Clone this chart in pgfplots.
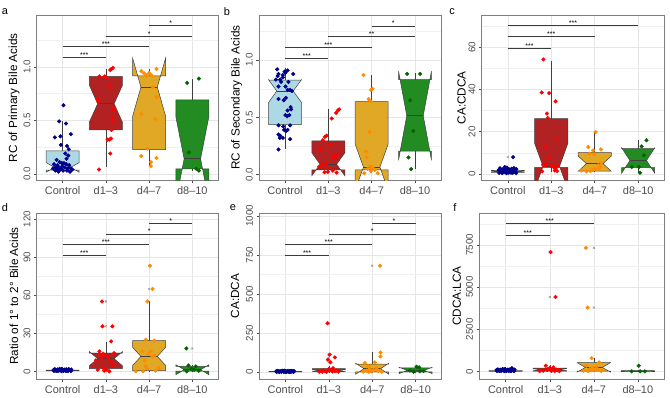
\documentclass[border=0pt]{standalone}
\usepackage{pgfplots}
\pgfplotsset{compat=1.18}
\usepackage{fontspec}
\setmainfont{Liberation Sans}
\definecolor{cCfill}{HTML}{ADD8E6}
\definecolor{cAfill}{HTML}{B22222}
\definecolor{cBfill}{HTML}{E0A824}
\definecolor{cDfill}{HTML}{228B22}
\definecolor{cCpt}{HTML}{00008B}
\definecolor{cApt}{HTML}{FF0000}
\definecolor{cBpt}{HTML}{FF8C00}
\definecolor{cDpt}{HTML}{006400}
\definecolor{boxline}{HTML}{404040}
\definecolor{gridc}{HTML}{E6E6E6}
\definecolor{bordc}{HTML}{7F7F7F}
\definecolor{tickc}{HTML}{4D4D4D}
\definecolor{sigc}{HTML}{3A3A3A}
\definecolor{outc}{HTML}{8A8A8A}

\newcommand{\nbox}[8]{%
 \pgfmathsetmacro\xa{#1-0.38}\pgfmathsetmacro\xb{#1+0.38}%
 \pgfmathsetmacro\xc{#1-0.19}\pgfmathsetmacro\xd{#1+0.19}%
 \pgfmathsetmacro\nl{#4-#7}\pgfmathsetmacro\nu{#4+#7}%
 \addplot[boxline, line width=0.5bp] coordinates {(#1,#3) (#1,#2)};
 \addplot[boxline, line width=0.5bp] coordinates {(#1,#5) (#1,#6)};
 \addplot[fill=#8, draw=boxline, line width=0.5bp] coordinates {(\xa,#3) (\xa,\nl) (\xc,#4) (\xa,\nu) (\xa,#5) (\xb,#5) (\xb,\nu) (\xd,#4) (\xb,\nl) (\xb,#3)} -- cycle;
 \addplot[boxline, line width=1.1bp] coordinates {(\xc,#4) (\xd,#4)};
}
\newcommand{\sig}[4]{%
 \addplot[sigc, line width=0.6bp] coordinates {(#1,#3) (#2,#3)} node[pos=0.5, anchor=base, inner sep=0pt, font=\fontsize{7}{8}\selectfont, text=black] {#4};
}

\pgfplotsset{
 panel/.style={
  scale only axis, anchor=south west,
  xmin=0.4, xmax=4.6,
  xtick={1,2,3,4}, xticklabels={Control,d1--3,d4--7,d8--10},
  xmajorgrids, ymajorgrids, yminorgrids,
  major grid style={draw=gridc, line width=0.5bp},
  minor grid style={draw=gridc!60!white, line width=0.3bp},
  axis line style={draw=bordc, line width=0.6bp},
  tick align=outside, tick pos=left,
  major tick length=2.75bp, minor tick length=0pt,
  tick style={draw=tickc, line width=0.5bp},
  xticklabel style={font=\fontsize{11}{12}\selectfont, text=tickc},
  yticklabel style={font=\fontsize{9.8}{11}\selectfont, text=tickc, rotate=90, anchor=south},
  label style={font=\fontsize{11.8}{13}\selectfont},
  pt/.style={only marks, mark=*, mark size=1.85bp},
  ox/.style={only marks, mark=x, mark size=1.4bp, outc, line width=0.4bp},
 }
}

\begin{document}
\begin{tikzpicture}
\useasboundingbox (0,0) rectangle (670bp,398bp);

% ---------------- panel a
\begin{axis}[panel, at={(36.7bp,217.5bp)}, width=181.6bp, height=165.5bp,
 ymin=-0.0625, ymax=1.484, ytick={0,0.5,1}, yticklabels={0.0,0.5,1.0}, minor ytick={0.25,0.75,1.25},
 ylabel={RC of Primary Bile Acids}, ylabel style={at={(axis description cs:-0.125,0.5)}, anchor=center}]
\nbox{1}{0.02}{0.035}{0.06}{0.215}{0.49}{0.045}{cCfill}
\nbox{2}{0.065}{0.41}{0.655}{0.91}{0.98}{0.17}{cAfill}
\nbox{3}{0.075}{0.225}{0.81}{0.915}{0.98}{0.27}{cBfill}
\nbox{4}{0.03}{0.045}{0.14}{0.69}{0.89}{0.39}{cDfill}
\addplot[pt, cCpt] coordinates {(1.02,0.64)(0.92,0.49)(1.08,0.47)(1.19,0.37)(0.82,0.34)(0.95,0.35)(0.96,0.27)(1.1,0.26)(1.14,0.23)(1.06,0.19)(1.13,0.17)(1.09,0.14)(0.86,0.13)(0.93,0.11)(0.98,0.10)(1.03,0.10)(0.80,0.09)(0.88,0.08)(1.08,0.09)(1.15,0.08)(0.84,0.06)(0.91,0.06)(0.99,0.07)(1.05,0.06)(1.12,0.05)(1.19,0.05)(0.78,0.05)(0.87,0.04)(0.95,0.04)(1.01,0.03)(1.10,0.03)(1.17,0.02)(0.83,0.03)(0.97,0.05)(1.22,0.04)(0.90,0.02)};
\addplot[pt, cApt] coordinates {(1.84,0.04)(2.10,0.19)(2.04,0.32)(2.08,0.32)(2.12,0.33)(2.13,0.41)(2.15,0.49)(2.15,0.53)(2.17,0.60)(2.19,0.61)(1.80,0.70)(1.83,0.67)(2.10,0.82)(1.85,0.91)(1.97,0.91)(2.01,0.90)(2.10,0.97)(2.13,0.98)(2.16,0.99)};
\addplot[pt, cBpt] coordinates {(2.82,0.166)(3.04,0.072)(3.04,0.11)(3.17,0.147)(2.96,0.235)(2.82,0.56)(3.15,0.51)(3.17,0.72)(3.09,0.81)(2.82,0.96)(2.88,0.94)(2.94,0.92)(3.0,0.94)(3.17,0.98)(3.05,0.92)};
\addplot[pt, cDpt] coordinates {(3.88,0.85)(4.15,0.89)(3.92,0.2)(4.09,0.047)(4.15,0.03)};
\sig{1}{2}{1.0875}{***}
\sig{1}{3}{1.1875}{***}
\sig{2}{4}{1.2875}{*}
\sig{3}{4}{1.39}{*}
\end{axis}

% ---------------- panel b
\begin{axis}[panel, at={(259bp,217.5bp)}, width=182bp, height=165.5bp,
 ymin=-0.052, ymax=1.395, ytick={0,0.5,1}, yticklabels={0.0,0.5,1.0}, minor ytick={0.25,0.75,1.25},
 ylabel={RC of Secondary Bile Acids}, ylabel style={at={(axis description cs:-0.1225,0.5)}, anchor=center}]
\nbox{1}{0.22}{0.436}{0.73}{0.826}{0.93}{0.1}{cCfill}
\nbox{2}{0.015}{0.04}{0.09}{0.295}{0.57}{0.1}{cAfill}
\nbox{3}{0.01}{0.04}{0.065}{0.637}{0.87}{0.2}{cBfill}
\nbox{4}{0.047}{0.205}{0.515}{0.83}{0.89}{0.39}{cDfill}
\addplot[pt, cCpt] coordinates {(0.85,0.22)(0.88,0.32)(0.89,0.34)(0.85,0.35)(0.95,0.32)(1.12,0.31)(1.02,0.38)(0.98,0.39)(1.06,0.39)(0.85,0.43)(0.96,0.42)(1.12,0.43)(1.05,0.51)(1.01,0.52)(1.10,0.52)(1.14,0.57)(1.13,0.59)(1.06,0.56)(0.85,0.66)(0.97,0.65)(1.02,0.67)(1.16,0.73)(1.12,0.74)(0.85,0.77)(1.01,0.77)(1.06,0.74)(0.91,0.81)(1.08,0.81)(0.79,0.83)(0.89,0.83)(0.83,0.86)(0.95,0.87)(1.01,0.89)(1.19,0.88)(0.82,0.92)(0.99,0.90)(1.06,0.91)(0.95,0.85)(0.85,0.88)};
\addplot[pt, cApt] coordinates {(2.22,0.56)(2.25,0.57)(2.18,0.54)(2.08,0.49)(1.96,0.34)(1.92,0.33)(1.87,0.30)(2.04,0.26)(2.14,0.17)(2.18,0.16)(2.10,0.15)(1.83,0.22)(1.95,0.09)(1.85,0.087)(1.79,0.07)(2.10,0.035)(2.19,0.017)(1.99,0.023)(1.91,0.02)};
\addplot[pt, cBpt] coordinates {(2.81,0.87)(2.98,0.74)(3.02,0.75)(2.93,0.66)(2.98,0.64)(2.95,0.375)(2.87,0.2)(2.89,0.15)(2.98,0.07)(3.02,0.064)(2.91,0.05)(3.07,0.04)(2.83,0.012)(3.14,0.012)(2.98,0.03)};
\addplot[pt, cDpt] coordinates {(3.82,0.88)(4.12,0.88)(3.89,0.65)(3.96,0.38)(3.85,0.15)(3.91,0.047)};
\sig{1}{2}{1.017}{***}
\sig{1}{3}{1.11}{***}
\sig{2}{4}{1.206}{**}
\sig{3}{4}{1.3}{*}
\end{axis}

% ---------------- panel c
\begin{axis}[panel, at={(481.7bp,217.5bp)}, width=182.6bp, height=165.5bp,
 ymin=-3.2, ymax=75.4, ytick={0,20,40,60}, yticklabels={0,20,40,60}, minor ytick={10,30,50,70},
 ylabel={CA:CDCA}, ylabel style={at={(axis description cs:-0.11,0.5)}, anchor=center}]
\nbox{1}{0.1}{0.6}{1.0}{1.6}{3.2}{0.3}{cCfill}
\nbox{2}{1.0}{3.0}{3.5}{26.2}{53.6}{10.8}{cAfill}
\nbox{3}{1.0}{1.2}{4.8}{10.0}{19.8}{3.6}{cBfill}
\nbox{4}{0.3}{2.9}{6.3}{11.9}{15.8}{6.0}{cDfill}
\addplot[ox] coordinates {(1,7.9)};
\addplot[pt, cCpt] coordinates {(0.80,0.4)(0.84,1.2)(0.88,2.1)(0.91,0.7)(0.95,1.6)(0.98,2.9)(1.02,0.5)(1.05,1.3)(1.09,2.4)(1.12,0.9)(1.16,1.8)(1.19,0.3)(0.82,2.6)(0.86,0.8)(0.90,1.4)(0.93,3.2)(0.97,0.2)(1.00,1.1)(1.04,2.0)(1.07,0.6)(1.11,1.5)(1.14,2.7)(1.18,1.0)(0.79,1.7)(0.87,0.3)(0.92,2.3)(0.96,1.2)(1.01,0.9)(1.06,1.9)(1.10,0.4)(1.15,1.4)(1.20,2.2)(0.83,1.0)(0.99,2.5)(1.13,0.7)(1.12,7.9)};
\addplot[pt, cApt] coordinates {(1.82,54.3)(1.78,38.6)(1.95,38.3)(2.10,34.4)(1.90,28.6)(1.92,26.5)(2.12,16.2)(1.88,12.7)(1.95,7.6)(1.81,4.3)(1.87,4.0)(2.0,3.8)(2.05,3.2)(2.1,2.7)(2.15,3.7)(2.08,1.6)(1.79,1.1)(2.13,1.3)(1.88,4.8)};
\addplot[pt, cBpt] coordinates {(3.02,19.8)(2.85,12.7)(3.14,11.6)(2.96,11.1)(2.88,9.5)(2.99,9.2)(3.15,5.2)(3.08,4.0)(3.13,3.2)(3.0,2.4)(2.95,1.9)(3.1,2.7)(2.69,1.6)(2.9,1.3)(2.81,1.1)};
\addplot[pt, cDpt] coordinates {(4.19,15.9)(4.08,13.0)(4.13,8.7)(3.85,3.2)(4.02,3.2)(4.04,0.5)};
\sig{1}{2}{59.5}{***}
\sig{1}{3}{65.1}{***}
\sig{1}{4}{70.6}{***}
\end{axis}

% ---------------- panel d
\begin{axis}[panel, at={(36.7bp,19bp)}, width=181.6bp, height=166bp,
 ymin=-6, ymax=124.7, ytick={0,30,60,90,120}, yticklabels={0,30,60,90,120}, minor ytick={15,45,75,105},
 ylabel={Ratio of 1° to 2° Bile Acids}, ylabel style={at={(axis description cs:-0.125,0.5)}, anchor=center}]
\nbox{1}{0}{0.3}{0.6}{1.0}{2.0}{0.2}{cCfill}
\nbox{2}{0}{2.1}{10.0}{14.4}{23.3}{5.5}{cAfill}
\nbox{3}{0}{0.5}{11.8}{24.2}{55.1}{7.1}{cBfill}
\nbox{4}{0}{0.2}{1.3}{3.9}{5.3}{3.9}{cDfill}
\addplot[ox] coordinates {(2,55.1)(2,35.5)(3,83.2)(3,64.9)(4,18.1)};
\addplot[pt, cCpt] coordinates {(0.80,0.3)(0.84,0.9)(0.88,1.5)(0.91,0.5)(0.95,1.1)(0.98,1.9)(1.02,0.4)(1.05,0.9)(1.09,1.6)(1.12,0.7)(1.16,1.3)(1.19,0.2)(0.82,1.7)(0.86,0.6)(0.90,1.0)(0.93,2.0)(0.97,0.2)(1.00,0.8)(1.04,1.4)(1.07,0.5)(1.11,1.0)(1.14,1.8)(1.18,0.8)(0.79,1.2)(0.87,0.3)(0.92,1.5)(0.96,0.9)(1.01,0.6)(1.06,1.3)(1.10,0.3)(1.15,1.0)(1.20,1.5)(0.83,0.7)(0.99,1.7)(1.13,0.5)};
\addplot[pt, cApt] coordinates {(1.91,55.1)(1.92,35.5)(2.15,35.5)(2.12,23.6)(1.85,15.8)(1.94,13.9)(2.0,11.8)(2.19,14.4)(2.06,10.5)(2.12,7.9)(2.15,4.7)(1.77,8.7)(1.88,11.3)(1.94,2.6)(1.81,1.3)(1.96,0.5)(2.08,0)(2.02,1.3)(1.9,10.5)};
\addplot[pt, cBpt] coordinates {(3.02,83.2)(3.08,64.9)(2.96,55.1)(2.92,24.9)(3.12,24.2)(2.85,15.8)(3.04,15.8)(2.98,13.7)(3.08,11.8)(3.12,12.3)(2.9,8.4)(2.92,3.9)(2.69,0.1)(2.86,0.1)(3.15,0.5)(3.22,2.6)(2.96,2.1)};
\addplot[pt, cDpt] coordinates {(3.86,18.1)(3.91,4.7)(4.08,3.9)(3.98,2.1)(3.87,0)(4.15,0.5)(4.04,1.3)};
\sig{1}{2}{91.4}{***}
\sig{1}{3}{99.8}{***}
\sig{2}{4}{108.2}{*}
\sig{3}{4}{116.6}{*}
\end{axis}

% ---------------- panel e
\begin{axis}[panel, at={(259.3bp,19bp)}, width=182.4bp, height=166bp,
 ymin=-44.9, ymax=1019, ytick={0,250,500,750,1000}, yticklabels={0,250,500,750,1000}, minor ytick={125,375,625,875},
 ylabel={CA:DCA}, ylabel style={at={(axis description cs:-0.133,0.5)}, anchor=center}]
\nbox{1}{0}{0.5}{2}{4}{9}{1.5}{cCfill}
\nbox{2}{0}{2}{8.5}{21}{40}{6}{cAfill}
\nbox{3}{0}{1}{21}{51}{125}{35}{cBfill}
\nbox{4}{0}{1}{10}{26}{34}{20}{cDfill}
\addplot[ox] coordinates {(2,312)(2,111)(2,94)(2,79)(2,62)(3,681)};
\addplot[pt, cCpt] coordinates {(0.80,1)(0.84,4)(0.88,6)(0.91,2)(0.95,4)(0.98,8)(1.02,2)(1.05,4)(1.09,6)(1.12,3)(1.16,5)(1.19,1)(0.82,7)(0.86,2)(0.90,4)(0.93,8)(0.97,1)(1.00,3)(1.04,6)(1.07,2)(1.11,4)(1.14,7)(1.18,3)(0.79,5)(0.87,1)(0.92,6)(0.96,4)(1.01,2)(1.06,5)(1.10,1)(1.15,4)(1.20,6)(0.83,3)(0.99,7)(1.13,2)};
\addplot[pt, cApt] coordinates {(1.97,312)(2.02,111)(2.14,94)(1.98,79)(2.04,62)(1.85,2)(1.92,5)(2.08,3)(2.18,9)(1.88,12)(2.05,15)(1.95,1)(2.22,2)(1.78,1)(2.14,6)(2.0,20)(1.82,8)(2.1,25)};
\addplot[pt, cBpt] coordinates {(3.18,681)(3.19,125)(3.19,100)(3.06,62)(2.83,58)(2.91,36)(3.1,25)(2.87,9)(2.98,4)(3.14,6)(2.79,2)(3.03,15)(2.94,21)(3.22,2)(2.92,2)};
\addplot[pt, cDpt] coordinates {(4.02,34)(4.08,30)(3.87,9)(4.1,4)(3.95,2)(4.18,6)};
\sig{1}{2}{748}{***}
\sig{1}{3}{816}{***}
\sig{2}{4}{885}{*}
\sig{3}{4}{953}{*}
\end{axis}

% ---------------- panel f
\begin{axis}[panel, at={(479.3bp,19bp)}, width=185bp, height=166bp,
 ymin=-453, ymax=9390, ytick={0,2500,5000,7500}, yticklabels={0,2500,5000,7500}, minor ytick={1250,3750,6250,8750},
 ylabel={CDCA:LCA}, ylabel style={at={(axis description cs:-0.122,0.5)}, anchor=center}]
\nbox{1}{0}{5}{20}{50}{110}{15}{cCfill}
\nbox{2}{0}{10}{98}{197}{360}{60}{cAfill}
\nbox{3}{0}{10}{236}{512}{787}{280}{cBfill}
\nbox{4}{0}{0}{10}{40}{60}{30}{cDfill}
\addplot[ox] coordinates {(2,7067)(2,4410)(3,7323)(3,3780)(4,335)};
\addplot[pt, cCpt] coordinates {(0.80,20)(0.84,60)(0.88,100)(0.91,35)(0.95,75)(0.98,130)(1.02,30)(1.05,60)(1.09,110)(1.12,50)(1.16,90)(1.19,15)(0.82,120)(0.86,40)(0.90,70)(0.93,140)(0.97,15)(1.00,55)(1.04,100)(1.07,35)(1.11,70)(1.14,197)(1.18,55)(0.79,85)(0.87,20)(0.92,105)(0.96,60)(1.01,40)(1.06,90)(1.10,20)(1.15,70)(1.20,105)(0.83,50)(0.99,120)(1.13,35)};
\addplot[pt, cApt] coordinates {(2.02,7067)(2.13,4410)(1.91,335)(2.08,236)(1.96,138)(2.15,98)(1.85,39)(2.04,20)(2.19,59)(1.77,20)(2.11,20)(1.94,79)(2.22,15)(2.0,197)};
\addplot[pt, cBpt] coordinates {(2.82,7323)(2.86,3780)(2.95,787)(3.12,531)(2.83,335)(3.06,276)(2.91,138)(2.76,39)(3.0,79)(3.17,20)(2.87,20)(3.1,98)(2.97,236)};
\addplot[pt, cDpt] coordinates {(4.02,335)(3.86,0)(4.05,0)(4.16,0)};
\sig{1}{2}{8050}{***}
\sig{1}{3}{8760}{***}
\end{axis}

\node[font=\fontsize{11}{12}\selectfont] at (5bp,386bp) {a};
\node[font=\fontsize{11}{12}\selectfont] at (227bp,386bp) {b};
\node[font=\fontsize{11}{12}\selectfont] at (452bp,386bp) {c};
\node[font=\fontsize{11}{12}\selectfont] at (5bp,190bp) {d};
\node[font=\fontsize{11}{12}\selectfont] at (233bp,190bp) {e};
\node[font=\fontsize{11}{12}\selectfont] at (455bp,190bp) {f};
\end{tikzpicture}
\end{document}
